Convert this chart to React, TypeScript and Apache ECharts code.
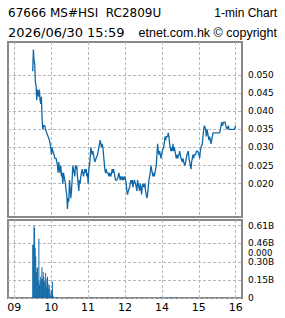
import React, { useEffect, useRef } from 'react';
import * as echarts from 'echarts';

const headerLeft1 = '67666 MS#HSI  RC2809U';
const headerRight1 = '1-min Chart';
const headerLeft2 = '2026/06/30 15:59';
const headerRight2 = 'etnet.com.hk © copyright';

const hourLabels = ['09', '10', '11', '12', '14', '15', '16'];
const priceTicks = [0.02, 0.025, 0.03, 0.035, 0.04, 0.045, 0.05];
const volumeTicks = [0, 0.15, 0.3, 0.46, 0.61];

const priceStart = '09:30';
const priceEnd = '16:00';
const prices = [
  0.051, 0.057, 0.054, 0.053, 0.048, 0.047, 0.043, 0.046, 0.045, 0.044,
  0.046, 0.043, 0.042, 0.044, 0.038, 0.035, 0.036, 0.036, 0.036, 0.035,
  0.035, 0.034, 0.034, 0.033, 0.033, 0.032, 0.031, 0.030, 0.028, 0.030,
  0.029, 0.029, 0.028, 0.027, 0.027, 0.027, 0.026, 0.025, 0.023, 0.026,
  0.024, 0.023, 0.025, 0.022, 0.023, 0.020, 0.023, 0.022, 0.022, 0.020,
  0.018, 0.017, 0.013, 0.016, 0.015, 0.021, 0.019, 0.016, 0.018, 0.021,
  0.025, 0.024, 0.024, 0.022, 0.025, 0.024, 0.025, 0.022, 0.020, 0.018,
  0.021, 0.020, 0.022, 0.022, 0.024, 0.023, 0.022, 0.023, 0.024, 0.023,
  0.024, 0.022, 0.023, 0.020, 0.024, 0.025, 0.027, 0.030, 0.029, 0.028,
  0.029, 0.028, 0.027, 0.026, 0.026, 0.027, 0.027, 0.028, 0.029, 0.030,
  0.031, 0.032, 0.031, 0.030, 0.031, 0.030, 0.028, 0.026, 0.024, 0.023,
  0.024, 0.023, 0.023, 0.023, 0.022, 0.023, 0.023, 0.022, 0.023, 0.024,
  0.023, 0.024, 0.023, 0.023, 0.021, 0.021, 0.021, 0.021, 0.022, 0.023,
  0.022, 0.021, 0.022, 0.022, 0.021, 0.022, 0.021, 0.021, 0.022, 0.021,
  0.020, 0.018, 0.017, 0.018, 0.018, 0.019, 0.020, 0.021, 0.020, 0.021,
  0.019, 0.020, 0.021, 0.021, 0.020, 0.019, 0.018, 0.021, 0.020, 0.019,
  0.018, 0.020, 0.019, 0.017, 0.019, 0.020, 0.020, 0.019, 0.020, 0.018,
  0.017, 0.016, 0.017, 0.019, 0.021, 0.022, 0.023, 0.025, 0.024, 0.023,
  0.022, 0.023, 0.022, 0.023, 0.024, 0.025, 0.028, 0.031, 0.029, 0.028,
  0.029, 0.028, 0.027, 0.028, 0.029, 0.029, 0.030, 0.031, 0.033, 0.032,
  0.033, 0.033, 0.033, 0.034, 0.033, 0.031, 0.030, 0.029, 0.030, 0.029,
  0.031, 0.029, 0.030, 0.029, 0.028, 0.027, 0.028, 0.027, 0.027, 0.028,
  0.029, 0.028, 0.027, 0.027, 0.026, 0.027, 0.026, 0.026, 0.025, 0.026,
  0.027, 0.028, 0.028, 0.029, 0.027, 0.026, 0.025, 0.024, 0.026, 0.027,
  0.028, 0.027, 0.028, 0.028, 0.028, 0.029, 0.029, 0.029, 0.029, 0.028,
  0.027, 0.029, 0.030, 0.030, 0.031, 0.033, 0.035, 0.036, 0.036, 0.035,
  0.033, 0.035, 0.034, 0.033, 0.032, 0.033, 0.032, 0.031, 0.031, 0.033,
  0.034, 0.034, 0.034, 0.034, 0.034, 0.034, 0.034, 0.034, 0.034, 0.034,
  0.034, 0.034, 0.036, 0.037, 0.036, 0.036, 0.037, 0.037, 0.037, 0.036,
  0.036, 0.035, 0.035, 0.036, 0.035, 0.035, 0.035, 0.035, 0.035, 0.035,
  0.035, 0.035, 0.035, 0.035, 0.036,
];

const volumeStart = '09:30';
const volumeOpen = [
  0.45, 0.45, 0.61, 0.59, 0.42, 0.35, 0.22, 0.25, 0.26, 0.14,
  0.50, 0.11, 0.14, 0.18, 0.16, 0.26, 0.16, 0.22, 0.18, 0.14,
  0.12, 0.21, 0.09, 0.16, 0.18, 0.12, 0.08, 0.11, 0.04, 0.02,
  0.07, 0.05, 0.14, 0.02, 0.01,
];
const volumeLateTimes = ['10:09', '10:29', '11:04', '11:32', '13:02', '13:58', '14:14', '14:23'];
const volumeLate = [0.008, 0.008, 0.008, 0.008, 0.008, 0.008, 0.008, 0.008];

const BLUE = '#1068a8';
const GRID_LINE = { show: true, lineStyle: { color: '#b8b8b8', type: [3, 2] as any, width: 1 } };

function timeToPos(t: string): number {
  const [h, m] = t.split(':').map(Number);
  let p = h + m / 60 - 9;
  if (h >= 13) p -= 1;
  return p;
}

export default function App() {
  const ref = useRef<HTMLDivElement>(null);
  useEffect(() => {
    if (!ref.current) return;
    const chart = echarts.init(ref.current, null, { renderer: 'svg' });
    const p0 = timeToPos(priceStart);
    const p1 = timeToPos(priceEnd);
    const priceData = prices.map((v, i) => [p0 + ((p1 - p0) * i) / (prices.length - 1), v]);
    const v0 = timeToPos(volumeStart);
    const volData = volumeOpen
      .map((v, i) => [v0 + i / 60, v])
      .concat(volumeLate.map((v, i) => [timeToPos(volumeLateTimes[i]), v]));
    const hourVals = hourLabels.map((_, i) => i);
    const xBase = {
      type: 'value' as const,
      min: -0.17,
      max: 6.17,
      axisLine: { show: false },
      axisTick: { show: false, customValues: hourVals },
      splitLine: GRID_LINE,
    };
    const fontMain = 'DejaVu Sans';
    chart.setOption({
      animation: false,
      backgroundColor: '#fff',
      grid: [
        { left: 8, right: 43, top: 42, height: 175, show: true, borderColor: '#888', borderWidth: 2, backgroundColor: 'transparent' },
        { left: 8, right: 43, top: 220, height: 78, show: true, borderColor: '#888', borderWidth: 2, backgroundColor: 'transparent' },
      ],
      xAxis: [
        { ...xBase, gridIndex: 0, axisLabel: { show: false, customValues: hourVals } },
        {
          ...xBase,
          gridIndex: 1,
          axisLabel: {
            show: true,
            customValues: hourVals,
            margin: 4,
            color: '#000',
            fontSize: 11,
            fontFamily: fontMain,
            formatter: (v: number) => hourLabels[Math.round(v)] ?? '',
          },
        },
      ],
      yAxis: [
        {
          type: 'value',
          gridIndex: 0,
          position: 'right',
          min: 0.0108,
          max: 0.0591,
          axisLine: { show: false },
          axisTick: { show: false, customValues: priceTicks },
          splitLine: GRID_LINE,
          axisLabel: {
            customValues: priceTicks,
            margin: 6,
            color: '#000',
            fontSize: 9,
            fontFamily: fontMain,
            formatter: (v: number) => v.toFixed(3),
          },
        },
        {
          type: 'value',
          gridIndex: 1,
          position: 'right',
          min: 0,
          max: 0.658,
          axisLine: { show: false },
          axisTick: { show: false, customValues: volumeTicks },
          splitLine: GRID_LINE,
          axisLabel: {
            customValues: volumeTicks,
            margin: 6,
            color: '#000',
            fontSize: 9,
            fontFamily: fontMain,
            formatter: (v: number) => (v === 0 ? '0' : v.toFixed(2) + 'B'),
          },
        },
      ],
      series: [
        {
          type: 'line',
          xAxisIndex: 0,
          yAxisIndex: 0,
          data: priceData,
          showSymbol: false,
          lineStyle: { color: BLUE, width: 1.3 },
          z: 5,
        },
        {
          type: 'bar',
          xAxisIndex: 1,
          yAxisIndex: 1,
          data: volData,
          barWidth: 1,
          itemStyle: { color: BLUE },
          z: 5,
        },
      ],
      graphic: [
        { type: 'text', left: 8, top: 7, style: { text: headerLeft1, font: `12px "${fontMain}"`, fill: '#000' } },
        { type: 'text', right: 8, top: 7, style: { text: headerRight1, font: '12px "Liberation Sans"', fill: '#000' } },
        { type: 'text', left: 8, top: 26, style: { text: headerLeft2, font: `13px "${fontMain}"`, fill: '#000' } },
        { type: 'text', right: 8, top: 26, style: { text: headerRight2, font: '12.5px "Liberation Sans"', fill: '#000' } },
        { type: 'text', left: 248, top: 248.8, style: { text: '0.000', font: `8.5px "${fontMain}"`, fill: '#000' } },
      ],
    });
    return () => chart.dispose();
  }, []);
  return <div ref={ref} style={{ position: 'fixed', left: 0, top: 0, width: 285, height: 318 }} />;
}
